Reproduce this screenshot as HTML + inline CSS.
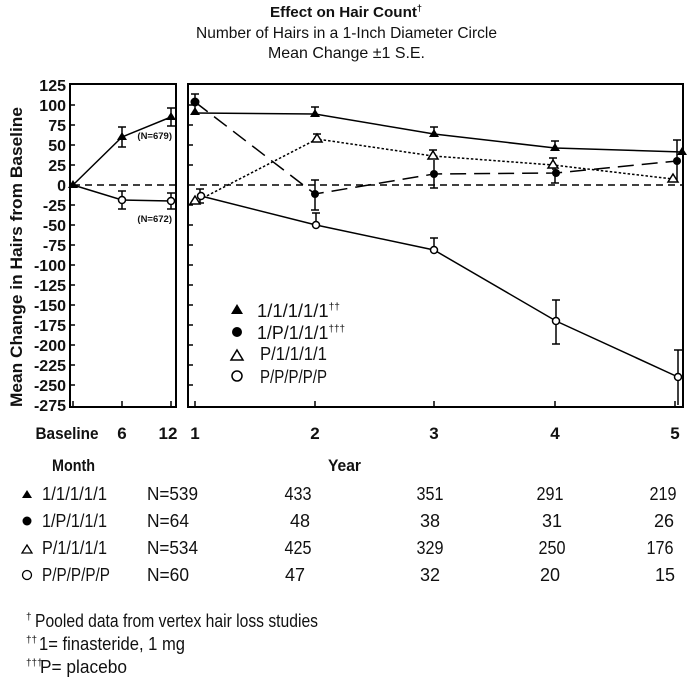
<!DOCTYPE html>
<html><head><meta charset="utf-8"><style>
html,body{margin:0;padding:0;background:#fff}
svg{display:block}
text{font-family:"Liberation Sans Narrow","Liberation Sans",sans-serif;fill:#111}
.b{font-weight:bold}
</style></head><body>
<svg width="692" height="686" viewBox="0 0 692 686" xmlns="http://www.w3.org/2000/svg">
<text x="270" y="17" class="b" font-size="15" textLength="152" lengthAdjust="spacingAndGlyphs">Effect on Hair Count<tspan font-size="9" dy="-6">†</tspan></text>
<text x="196" y="38" font-size="16" textLength="301" lengthAdjust="spacingAndGlyphs">Number of Hairs in a 1-Inch Diameter Circle</text>
<text x="268" y="58" font-size="16" textLength="157" lengthAdjust="spacingAndGlyphs">Mean Change ±1 S.E.</text>
<text transform="translate(22,257) rotate(-90)" text-anchor="middle" class="b" font-size="17" textLength="300" lengthAdjust="spacingAndGlyphs">Mean Change in Hairs from Baseline</text>
<g class="b" font-size="16" text-anchor="end">
<text x="66" y="91">125</text><text x="66" y="111">100</text><text x="66" y="131">75</text><text x="66" y="151">50</text><text x="66" y="171">25</text><text x="66" y="191">0</text><text x="66" y="211">-25</text><text x="66" y="231">-50</text><text x="66" y="251">-75</text><text x="66" y="271">-100</text><text x="66" y="291">-125</text><text x="66" y="311">-150</text><text x="66" y="331">-175</text><text x="66" y="351">-200</text><text x="66" y="371">-225</text><text x="66" y="391">-250</text><text x="66" y="411">-275</text>
</g>
<rect x="70" y="84" width="106" height="323" fill="none" stroke="#000" stroke-width="2"/>
<rect x="188" y="84" width="495" height="323" fill="none" stroke="#000" stroke-width="2"/>
<g stroke="#000" stroke-width="1.5">
<path d="M70 105h5M70 125h5M70 145h5M70 165h5M70 205h5M70 225h5M70 245h5M70 265h5M70 285h5M70 305h5M70 325h5M70 345h5M70 365h5M70 385h5"/>
<path d="M188 105h5M188 125h5M188 145h5M188 165h5M188 205h5M188 225h5M188 245h5M188 265h5M188 285h5M188 305h5M188 325h5M188 345h5M188 365h5M188 385h5"/>
<path d="M73 407v-6M122 407v-6M171 407v-6M195 407v-6M315 407v-6M434 407v-6M555 407v-6M675 407v-6"/>
</g>
<g stroke="#000" stroke-width="1.5" stroke-dasharray="7,5" fill="none">
<path d="M73 185H176M188 185H683"/>
</g>
<g class="b" font-size="17" text-anchor="middle">
<text x="67" y="439" textLength="63" lengthAdjust="spacingAndGlyphs">Baseline</text><text x="122" y="439">6</text><text x="168" y="439">12</text>
<text x="195" y="439">1</text><text x="315" y="439">2</text><text x="434" y="439">3</text><text x="555" y="439">4</text><text x="675" y="439">5</text>
</g>
<g class="b" font-size="17">
<text x="52" y="471" textLength="43" lengthAdjust="spacingAndGlyphs">Month</text><text x="328" y="471" textLength="33" lengthAdjust="spacingAndGlyphs">Year</text>
</g>
<!-- left panel -->
<g stroke="#000" stroke-width="1.5" fill="none">
<polyline points="73,185 122,137 171,117"/>
<polyline points="73,185 122,200 171,201"/>
<path d="M122,127v20M118,127h8M118,147h8M171,108v18M167,108h8M167,126h8M122,191v18M118,191h8M118,209h8M171,193v16M167,193h8M167,209h8"/>
</g>
<path d="M73,180l5,8h-10z" fill="#000"/>
<path d="M122,132l5,8h-10zM171,112l5,8h-10z" fill="#000"/>
<circle cx="122" cy="200" r="3.5" fill="#fff" stroke="#000" stroke-width="1.5"/>
<circle cx="171" cy="201" r="3.5" fill="#fff" stroke="#000" stroke-width="1.5"/>
<text x="172" y="139" text-anchor="end" class="b" font-size="9.5">(N=679)</text>
<text x="172" y="222" text-anchor="end" class="b" font-size="9.5">(N=672)</text>
<!-- right panel -->
<g stroke="#000" fill="none" stroke-width="1.5">
<polyline points="195,113 315,114 434,134 555,148 682,152"/>
<polyline points="201,196 316,225 434,250 556,321 678,377"/>
<polyline points="195,102 315,194 434,174 556,173 677,161" stroke-dasharray="16,8"/>
<polyline points="195,202 317,139 433,156 553,165 673,179" stroke-dasharray="2.5,2"/>
</g>
<g stroke="#000" stroke-width="1.5" fill="none">
<path d="M195,94v16M191,94h8M315,107v8M311,107h8M434,127v8M430,127h8M555,141v8M551,141h8M677,140v40M673,140h8"/>
<path d="M315,180v30M311,180h8M311,210h8M434,160v28M430,188h8M555,163v20M551,183h8"/>
<path d="M317,134v8M313,134h8M433,150v8M429,150h8M553,158v12M549,158h8M200,189v14M196,189h8M196,203h8"/>
<path d="M316,213v12M312,213h8M434,238v12M430,238h8M556,300v44M552,300h8M552,344h8M678,350v55M674,350h8"/>
</g>
<g fill="#000">
<path d="M195,107l5,8h-10zM315,109l5,8h-10zM434,129l5,8h-10zM555,143l5,8h-10zM682,147l5,8h-10z"/>
<circle cx="195" cy="102" r="4.5"/><circle cx="315" cy="194" r="4"/><circle cx="434" cy="174" r="4"/><circle cx="556" cy="173" r="4"/><circle cx="677" cy="161" r="4"/>
</g>
<g fill="#fff" stroke="#000" stroke-width="1.5">
<path d="M195,196l5,8h-10zM317,134l5,8h-10zM433,151l5,8h-10zM553,160l5,8h-10zM673,174l5,8h-10z"/>
<circle cx="201" cy="196" r="3.5"/><circle cx="316" cy="225" r="3.5"/><circle cx="434" cy="250" r="3.5"/><circle cx="556" cy="321" r="3.5"/><circle cx="678" cy="377" r="3.5"/>
</g>
<!-- legend -->
<path d="M237,304l6,10h-12z" fill="#000"/>
<circle cx="237" cy="332" r="5" fill="#000"/>
<path d="M237,350l6,10h-12z" fill="#fff" stroke="#000" stroke-width="1.5"/>
<circle cx="237" cy="376" r="5" fill="#fff" stroke="#000" stroke-width="1.5"/>
<g font-size="18">
<text x="257" y="317" textLength="83" lengthAdjust="spacingAndGlyphs">1/1/1/1/1<tspan font-size="10" dy="-7">††</tspan></text>
<text x="257" y="339" textLength="88" lengthAdjust="spacingAndGlyphs">1/P/1/1/1<tspan font-size="10" dy="-7">†††</tspan></text>
<text x="260" y="360" textLength="67" lengthAdjust="spacingAndGlyphs">P/1/1/1/1</text>
<text x="260" y="383" textLength="67" lengthAdjust="spacingAndGlyphs">P/P/P/P/P</text>
</g>
<!-- table -->
<path d="M27,490l5,8h-10z" fill="#000"/>
<circle cx="27" cy="521" r="4.5" fill="#000"/>
<path d="M27,545l5,8h-10z" fill="#fff" stroke="#000" stroke-width="1.3"/>
<circle cx="27" cy="575" r="4.5" fill="#fff" stroke="#000" stroke-width="1.3"/>
<g font-size="18">
<text x="42" y="500" textLength="65" lengthAdjust="spacingAndGlyphs">1/1/1/1/1</text><text x="42" y="527" textLength="65" lengthAdjust="spacingAndGlyphs">1/P/1/1/1</text><text x="42" y="554" textLength="65" lengthAdjust="spacingAndGlyphs">P/1/1/1/1</text><text x="42" y="581" textLength="68" lengthAdjust="spacingAndGlyphs">P/P/P/P/P</text>
<text x="147" y="500" textLength="51" lengthAdjust="spacingAndGlyphs">N=539</text><text x="147" y="527" textLength="42" lengthAdjust="spacingAndGlyphs">N=64</text><text x="147" y="554" textLength="51" lengthAdjust="spacingAndGlyphs">N=534</text><text x="147" y="581" textLength="42" lengthAdjust="spacingAndGlyphs">N=60</text>
</g>
<g font-size="18" text-anchor="middle">
<text x="298" y="500" textLength="27" lengthAdjust="spacingAndGlyphs">433</text><text x="300" y="527">48</text><text x="298" y="554" textLength="27" lengthAdjust="spacingAndGlyphs">425</text><text x="295" y="581">47</text>
<text x="430" y="500" textLength="27" lengthAdjust="spacingAndGlyphs">351</text><text x="430" y="527">38</text><text x="430" y="554" textLength="27" lengthAdjust="spacingAndGlyphs">329</text><text x="430" y="581">32</text>
<text x="550" y="500" textLength="27" lengthAdjust="spacingAndGlyphs">291</text><text x="552" y="527">31</text><text x="552" y="554" textLength="27" lengthAdjust="spacingAndGlyphs">250</text><text x="550" y="581">20</text>
<text x="663" y="500" textLength="27" lengthAdjust="spacingAndGlyphs">219</text><text x="664" y="527">26</text><text x="660" y="554" textLength="27" lengthAdjust="spacingAndGlyphs">176</text><text x="665" y="581">15</text>
</g>
<g font-size="18">
<text x="26" y="627" font-size="10" dy="-7">†</text><text x="35" y="627" textLength="283" lengthAdjust="spacingAndGlyphs">Pooled data from vertex hair loss studies</text>
<text x="26" y="650" font-size="10" dy="-7">††</text><text x="39" y="650" textLength="146" lengthAdjust="spacingAndGlyphs">1= finasteride, 1 mg</text>
<text x="26" y="673" font-size="10" dy="-7">†††</text><text x="40" y="673" textLength="87" lengthAdjust="spacingAndGlyphs">P= placebo</text>
</g>
</svg>
</body></html>
